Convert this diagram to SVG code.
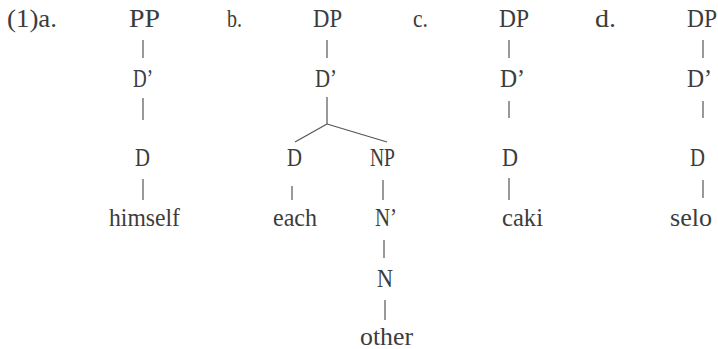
<svg xmlns="http://www.w3.org/2000/svg" width="718" height="349" viewBox="0 0 718 349">
<style>
text{font-family:"Liberation Serif","DejaVu Serif",serif;font-size:25px;fill:#3c3c3c;}
line{stroke:#555;stroke-width:1.2;fill:none;}
</style>
<rect width="718" height="349" fill="#fff"/>
<g id="labels">
<text x="7" y="27" textLength="50" lengthAdjust="spacingAndGlyphs">(1)a.</text>
<text x="227" y="27" textLength="15" lengthAdjust="spacingAndGlyphs">b.</text>
<text x="413" y="27" textLength="15" lengthAdjust="spacingAndGlyphs">c.</text>
<text x="595" y="27" textLength="21" lengthAdjust="spacingAndGlyphs">d.</text>
</g>
<g id="connectors">
<line x1="143" y1="40" x2="143" y2="58"/>
<line x1="143" y1="98" x2="143" y2="120"/>
<line x1="143" y1="179" x2="143" y2="200"/>
<line x1="327" y1="40" x2="327" y2="58"/>
<line x1="327" y1="97" x2="327" y2="124"/>
<line x1="327" y1="124" x2="295" y2="142"/>
<line x1="327" y1="124" x2="387" y2="142"/>
<line x1="292" y1="186" x2="292" y2="200"/>
<line x1="383" y1="180" x2="383" y2="200"/>
<line x1="384" y1="240" x2="384" y2="258"/>
<line x1="385" y1="300" x2="385" y2="320"/>
<line x1="509" y1="40" x2="509" y2="58"/>
<line x1="509" y1="101" x2="509" y2="118"/>
<line x1="509" y1="178" x2="509" y2="200"/>
<line x1="703" y1="40" x2="703" y2="58"/>
<line x1="703" y1="101" x2="703" y2="118"/>
<line x1="703" y1="180" x2="703" y2="198"/>
</g>
<g id="a_PP"><text x="129" y="27" textLength="31" lengthAdjust="spacingAndGlyphs">PP</text></g>
<g id="a_Dbar"><text x="133" y="87" textLength="20" lengthAdjust="spacingAndGlyphs">D’</text></g>
<g id="a_D"><text x="135" y="166" textLength="15" lengthAdjust="spacingAndGlyphs">D</text></g>
<g id="a_himself"><text x="109" y="226" textLength="71" lengthAdjust="spacingAndGlyphs">himself</text></g>
<g id="b_DP"><text x="313" y="27" textLength="29" lengthAdjust="spacingAndGlyphs">DP</text></g>
<g id="b_Dbar"><text x="315" y="87" textLength="22" lengthAdjust="spacingAndGlyphs">D’</text></g>
<g id="b_D"><text x="287" y="166" textLength="15" lengthAdjust="spacingAndGlyphs">D</text></g>
<g id="b_NP"><text x="370" y="166" textLength="25" lengthAdjust="spacingAndGlyphs">NP</text></g>
<g id="b_each"><text x="273" y="226" textLength="44" lengthAdjust="spacingAndGlyphs">each</text></g>
<g id="b_Nbar"><text x="375" y="226" textLength="22" lengthAdjust="spacingAndGlyphs">N’</text></g>
<g id="b_N"><text x="377" y="287" textLength="16" lengthAdjust="spacingAndGlyphs">N</text></g>
<g id="b_other"><text x="360" y="345" textLength="53" lengthAdjust="spacingAndGlyphs">other</text></g>
<g id="c_DP"><text x="499" y="27" textLength="30" lengthAdjust="spacingAndGlyphs">DP</text></g>
<g id="c_Dbar"><text x="500" y="87" textLength="25" lengthAdjust="spacingAndGlyphs">D’</text></g>
<g id="c_D"><text x="502" y="166" textLength="16" lengthAdjust="spacingAndGlyphs">D</text></g>
<g id="c_caki"><text x="502" y="226" textLength="41" lengthAdjust="spacingAndGlyphs">caki</text></g>
<g id="d_DP"><text x="687" y="27" textLength="30" lengthAdjust="spacingAndGlyphs">DP</text></g>
<g id="d_Dbar"><text x="687" y="87" textLength="25" lengthAdjust="spacingAndGlyphs">D’</text></g>
<g id="d_D"><text x="690" y="166" textLength="15" lengthAdjust="spacingAndGlyphs">D</text></g>
<g id="d_selo"><text x="670" y="226" textLength="42" lengthAdjust="spacingAndGlyphs">selo</text></g>
</svg>
